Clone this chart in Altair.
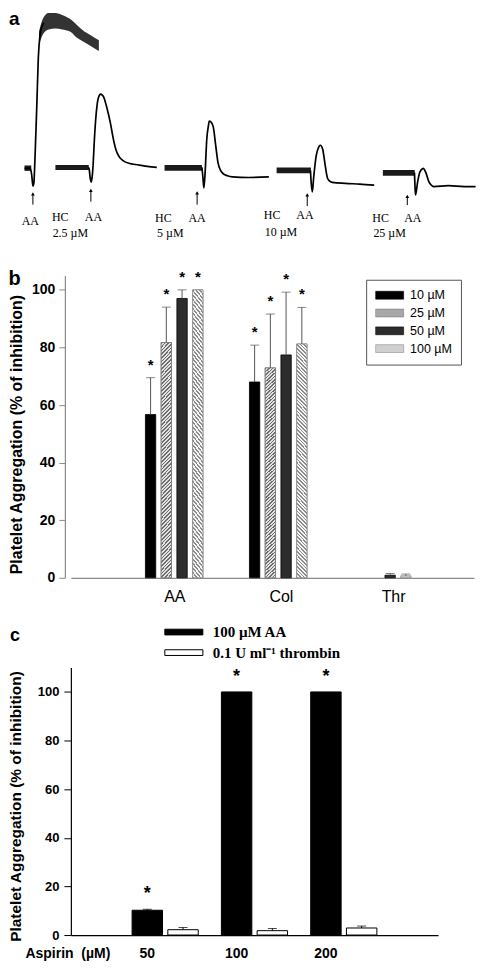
import altair as alt
import pandas as pd

SANS = "Liberation Sans"
SERIF = "Liberation Serif"

# ------------------------------------------------------------------
# Panel a : aggregation traces (x = recording position, y = deflection, drawn downward)
# ------------------------------------------------------------------
tr1_x = [18, 24, 25.5, 26.7, 27.7, 28.3, 29.3, 30.7, 32.3, 34, 36, 38]
tr1_y = [163, 163, 170, 181, 178, 167, 140, 100, 50, 27, 18, 14]
tr1_band_x = [33, 37, 43, 50, 57, 65, 73, 80, 87, 95]
tr1_band_hi = [23, 10, 4, 4, 6, 10, 17, 23, 27, 32]
tr1_band_lo = [37, 26, 21, 20, 21, 23, 30, 34, 38, 43]
tr2_x = [84, 85, 86, 87, 88, 89, 90, 91.7, 93.3, 95.7, 97, 98.5, 100, 103, 107, 110, 113, 116, 120, 127, 133, 145, 155]
tr2_y = [162, 164, 173, 177, 172, 160, 140, 113, 97, 88, 87, 88, 90, 100, 117, 133, 145, 151, 155, 158, 159, 161, 162]
tr3_x = [201.7, 202.7, 203.7, 205, 206.7, 208.3, 209.3, 210.5, 213.3, 216, 218.3, 221, 223.3, 228, 233.3, 250, 271]
tr3_y = [162, 172, 183, 167, 133, 120, 114.5, 115, 120, 140, 157, 165, 168, 170.5, 171.7, 172.3, 171.7]
tr4_x = [314, 315, 316, 317.3, 320, 322.7, 324.3, 326.7, 329.3, 331.7, 334, 336.7, 350, 365, 380]
tr4_y = [165, 180, 187, 173, 150, 141, 139.3, 143.3, 160, 173, 176, 177.3, 178.3, 179, 180]
tr5_x = [421.7, 422.2, 422.8, 425, 427.3, 430, 430.7, 433.3, 436.7, 439, 441.7, 456.7, 473.3, 485]
tr5_y = [167.3, 180, 190, 176.7, 166.7, 163.3, 163, 166.7, 176.7, 180, 181.7, 180.7, 181.7, 181.7]
base_x0 = [18, 50, 163, 279, 389]
base_x1 = [25, 84.5, 201.7, 314.5, 422]
base_hi = [160, 159.5, 159.5, 162, 164.5]
base_lo = [165.5, 164.5, 165.5, 168, 170.5]
a_arrow_x = [26.7, 86.7, 196.7, 310.7, 414.3]
a_arrow_top = [189, 185.5, 188, 190, 191.5]
a_arrow_bot = [200, 197, 200, 201.5, 200.5]
a_aa_x = [24, 89.3, 196.7, 308.3, 420]
a_aa_y = [216.7, 212.7, 213.3, 210.7, 214]
a_hc_x = [55, 161.7, 274.3, 386.7]
a_hc_y = [212.7, 213.3, 210.7, 214]
a_conc = ["2.5 \u00b5M", "5 \u00b5M", "10 \u00b5M", "25 \u00b5M"]
a_conc_x = [65.5, 169, 283.5, 396]
a_conc_y = [229, 229, 228, 229]

# ------------------------------------------------------------------
# Panel b
# ------------------------------------------------------------------
b_groups = ["AA", "Col", "Thr"]
b_group_label_pos = [1.006, 2.03, 3.109]
b_conc = ["10 \u00b5M", "25 \u00b5M", "50 \u00b5M", "100 \u00b5M"]
b_aa = [56.7, 81.7, 97.0, 100.0]
b_aa_err = [12.8, 12.3, 3.0, 0.0]
b_col = [68.0, 72.9, 77.4, 81.2]
b_col_err = [12.8, 18.7, 21.8, 12.7]
b_thr = [0.0, 0.0, 0.9, 0.7]
b_thr_err = [0.0, 0.0, 0.6, 0.6]
b_aa_sig = [1, 1, 1, 1]
b_col_sig = [1, 1, 1, 1]
b_thr_sig = [0, 0, 0, 0]
b_fill = ["#000000", "#a8a8a8", "#2c2c2c", "#d0d0d0"]
b_stroke = ["#000000", "#7a7a7a", "#000000", "#8c8c8c"]

# ------------------------------------------------------------------
# Panel c
# ------------------------------------------------------------------
c_doses = ["50", "100", "200"]
c_series = ["100 \u00b5M AA", "0.1 U ml\u207b\u00b9 thrombin"]
c_aa = [10.2, 100.0, 100.0]
c_aa_err = [0.4, 0.0, 0.0]
c_thr = [2.2, 1.8, 2.9]
c_thr_err = [0.9, 0.9, 0.8]
c_aa_sig = [1, 1, 1]
c_thr_sig = [0, 0, 0]

TITLE = "Platelet Aggregation (% of inhibition)"

# ---------------- layout (figure pixels -> page pixels) ----------------
SX, SY = 0.968, 0.98
ORIG = 66.0            # figure x of the common plot origin
B_TOP, B_ZERO = 272.3, 581.0
C_TOP, C_ZERO = 673.0, 946.7


def rx(fx):
    return SX * (fx - ORIG)


AW = BW = round(SX * (483 - ORIG))
CW = round(SX * (446 - ORIG))
BH = round(SY * (B_ZERO - B_TOP))
CH = round(SY * (C_ZERO - C_TOP))
SPACING = round(SY * (C_TOP - B_ZERO))
AH = round(SY * B_TOP) - SPACING


def ry_a(fy):
    return SY * fy


def ry_b(fy):
    return SY * (fy - B_TOP)


def ry_c(fy):
    return SY * (fy - C_TOP)


# diagonal hatch fill (style only): stripes built from a linear gradient in bar-box units
B_BAR_W = 10.7 * SX
HATCH_K = 22.0


def hatch(line_col, bg_col, down, period_px=3.6, frac=0.45):
    norm = 1.0 + HATCH_K ** 2
    per = period_px / B_BAR_W / norm
    t_max = (1.0 + HATCH_K) / norm
    stops = []
    t = 0.0
    while t < t_max + per and t + per <= 1.0:
        stops += [{"offset": round(t, 6), "color": line_col},
                  {"offset": round(t + frac * per, 6), "color": line_col},
                  {"offset": round(t + frac * per, 6), "color": bg_col},
                  {"offset": round(t + per, 6), "color": bg_col}]
        t += per
    if down:
        return {"gradient": "linear", "x1": 0, "y1": 1, "x2": 1, "y2": 1 - HATCH_K, "stops": stops}
    return {"gradient": "linear", "x1": 0, "y1": 0, "x2": 1, "y2": HATCH_K, "stops": stops}


# ================= panel a chart =================
ax_scale = alt.Scale(domain=[ORIG, ORIG + AW / SX], nice=False, zero=False)
ay_scale = alt.Scale(domain=[0, AH / SY], reverse=True, nice=False, zero=False)

rows = []
for tid, (xs, ys) in enumerate([(tr1_x, tr1_y), (tr2_x, tr2_y), (tr3_x, tr3_y), (tr4_x, tr4_y), (tr5_x, tr5_y)]):
    for k, (xv, yv) in enumerate(zip(xs, ys)):
        rows.append({"trace": tid, "k": k, "t": xv, "d": yv})
lines_df = pd.DataFrame(rows)
band_df = pd.DataFrame({"t": tr1_band_x, "hi": tr1_band_hi, "lo": tr1_band_lo})
base_df = pd.DataFrame({"t0": base_x0, "t1": base_x1, "hi": base_hi, "lo": base_lo})
arrow_df = pd.DataFrame({"t": a_arrow_x, "top": a_arrow_top, "bot": a_arrow_bot})
ann_df = pd.DataFrame(
    {"t": a_aa_x + a_hc_x + a_conc_x,
     "d": a_aa_y + a_hc_y + a_conc_y,
     "txt": ["AA"] * len(a_aa_x) + ["HC"] * len(a_hc_x) + a_conc})

AX = alt.X("t:Q", scale=ax_scale, axis=None)
a_lines = alt.Chart(lines_df).mark_line(color="black", strokeWidth=1.7, interpolate="monotone").encode(
    x=AX, y=alt.Y("d:Q", scale=ay_scale, axis=None), detail="trace:N", order="k:Q")
a_band = alt.Chart(band_df).mark_area(color="#333333", interpolate="monotone").encode(
    x=AX, y=alt.Y("hi:Q", scale=ay_scale, axis=None), y2="lo:Q")
a_base = alt.Chart(base_df).mark_rect(color="#1a1a1a").encode(
    x=alt.X("t0:Q", scale=ax_scale, axis=None), x2="t1:Q",
    y=alt.Y("hi:Q", scale=ay_scale, axis=None), y2="lo:Q")
a_arrow = alt.Chart(arrow_df).mark_rule(color="black", strokeWidth=1).encode(
    x=AX, y=alt.Y("top:Q", scale=ay_scale, axis=None), y2="bot:Q")
a_head = alt.Chart(arrow_df).mark_point(shape="triangle-up", filled=True, color="black", size=14, opacity=1).encode(
    x=AX, y=alt.Y("top:Q", scale=ay_scale, axis=None))
a_text = alt.Chart(ann_df).mark_text(font=SERIF, fontSize=12, baseline="middle", align="center", color="black").encode(
    x=AX, y=alt.Y("d:Q", scale=ay_scale, axis=None), text="txt:N")
a_letter = alt.Chart(pd.DataFrame({"l": ["a"]})).mark_text(
    font=SANS, fontWeight="bold", fontSize=19, align="left", baseline="middle").encode(
    x=alt.value(rx(2)), y=alt.value(ry_a(10)), text="l:N")
panel_a = alt.layer(a_base, a_band, a_lines, a_arrow, a_head, a_text, a_letter).properties(width=AW, height=AH)

# ================= panel b chart =================
b_rows = []
for gi, (g, vals, errs, sig) in enumerate(zip(b_groups, [b_aa, b_col, b_thr], [b_aa_err, b_col_err, b_thr_err],
                                              [b_aa_sig, b_col_sig, b_thr_sig]), start=1):
    for ci, c in enumerate(b_conc):
        b_rows.append({"group": g, "gi": gi, "conc": c, "ci": ci, "value": vals[ci],
                       "err": errs[ci], "top": vals[ci] + errs[ci], "sig": sig[ci]})
b_df = pd.DataFrame(b_rows)

bx_scale = alt.Scale(domain=[0.0548, 3.834], nice=False, zero=False)
by_scale = alt.Scale(domain=[0, 105], nice=False)
b_xaxis = alt.Axis(title=None, labels=False, ticks=False, grid=False, domainColor="#8a8a8a", domainWidth=1.2)
b_yaxis = alt.Axis(title=None, values=[0, 20, 40, 60, 80, 100], grid=False, offset=round(SX * 6),
                   domainColor="#8a8a8a", domainWidth=1.2, tickColor="#8a8a8a", tickSize=6,
                   labelFont=SANS, labelFontWeight="bold", labelFontSize=14, labelPadding=4,
                   labelColor="black")
b_base = alt.Chart(b_df).transform_calculate(xpos="datum.gi + (datum.ci - 1.5) * 0.1513")
BX = alt.X("xpos:Q", scale=bx_scale, axis=b_xaxis)
BY = alt.Y("value:Q", scale=by_scale, axis=b_yaxis)

b_bars = b_base.transform_filter("datum.value > 0").mark_bar(size=B_BAR_W, strokeWidth=0.8).encode(
    x=BX, y=BY,
    fill=alt.Fill("conc:N", scale=alt.Scale(domain=b_conc, range=b_fill),
                  legend=alt.Legend(orient="none", legendX=rx(371.7), legendY=ry_b(276.7), title=None,
                                    symbolType="M-1,-0.28L1,-0.28L1,0.28L-1,0.28Z",
                                    symbolSize=(29 * SX) ** 2,
                                    symbolStrokeColor="#666666", symbolStrokeWidth=0.6,
                                    clipHeight=13, rowPadding=18.2 * SY - 13, padding=9, labelOffset=6,
                                    labelFont=SANS, labelFontSize=12.5, labelColor="black",
                                    strokeColor="#555555", fillColor="white")),
    stroke=alt.Stroke("conc:N", scale=alt.Scale(domain=b_conc, range=b_stroke), legend=None))
b_hatch25 = b_base.transform_filter("datum.value > 2 && datum.ci == 1").mark_bar(
    size=B_BAR_W, fill=hatch("#6e6e6e", "#e2e2e2", down=False), stroke="#7a7a7a", strokeWidth=0.8).encode(
    x=BX, y=BY)
b_hatch100 = b_base.transform_filter("datum.value > 2 && datum.ci == 3").mark_bar(
    size=B_BAR_W, fill=hatch("#8c8c8c", "#f4f4f4", down=True), stroke="#8c8c8c", strokeWidth=0.8).encode(
    x=BX, y=BY)
b_err = b_base.transform_filter("datum.err > 0").mark_rule(color="#555555", strokeWidth=1).encode(
    x=BX, y=BY, y2="top:Q")
b_cap = b_base.transform_filter("datum.err > 0").mark_tick(orient="horizontal", size=9, thickness=1,
                                                           color="#555555").encode(
    x=BX, y=alt.Y("top:Q", scale=by_scale, axis=b_yaxis))
b_star = b_base.transform_filter("datum.sig == 1").mark_text(
    text="*", font=SANS, fontWeight="bold", fontSize=15, baseline="middle", dy=-13, color="black").encode(
    x=BX, y=alt.Y("top:Q", scale=by_scale, axis=b_yaxis))
b_lab = alt.Chart(pd.DataFrame({"group": b_groups, "pos": b_group_label_pos})).mark_text(
    font=SANS, fontSize=16, baseline="middle", color="black").encode(
    x=alt.X("pos:Q", scale=bx_scale, axis=b_xaxis), y=alt.value(ry_b(601.5)), text="group:N")
b_letter = alt.Chart(pd.DataFrame({"l": ["b"]})).mark_text(
    font=SANS, fontWeight="bold", fontSize=20, align="left", baseline="middle").encode(
    x=alt.value(rx(1.5)), y=alt.value(ry_b(275.5)), text="l:N")
b_title = alt.Chart(pd.DataFrame({"l": [TITLE]})).mark_text(
    font=SANS, fontWeight="bold", fontSize=16, angle=270, align="center", baseline="middle").encode(
    x=alt.value(rx(10)), y=alt.value(ry_b(435)), text="l:N")
panel_b = alt.layer(b_bars, b_hatch25, b_hatch100, b_err, b_cap, b_star, b_lab, b_letter, b_title).properties(
    width=BW, height=BH)

# ================= panel c chart =================
c_rows = []
for di, d in enumerate(c_doses, start=1):
    c_rows.append({"dose": d, "di": di, "series": c_series[0], "si": 0, "value": c_aa[di - 1],
                   "err": c_aa_err[di - 1], "top": c_aa[di - 1] + c_aa_err[di - 1], "sig": c_aa_sig[di - 1]})
    c_rows.append({"dose": d, "di": di, "series": c_series[1], "si": 1, "value": c_thr[di - 1],
                   "err": c_thr_err[di - 1], "top": c_thr[di - 1] + c_thr_err[di - 1], "sig": c_thr_sig[di - 1]})
c_df = pd.DataFrame(c_rows)
cx_scale = alt.Scale(domain=[0, 4], nice=False, zero=False)
cy_scale = alt.Scale(domain=[0, 110], nice=False)
c_xaxis = alt.Axis(title=None, labels=False, ticks=False, grid=False, domainColor="black", domainWidth=1.2)
c_yaxis = alt.Axis(title=None, values=[0, 20, 40, 60, 80, 100], grid=False,
                   domainColor="black", domainWidth=1.2, tickColor="black", tickSize=7,
                   labelFont=SANS, labelFontWeight="bold", labelFontSize=13, labelPadding=5,
                   labelColor="black")
c_base = alt.Chart(c_df).transform_calculate(xpos="datum.di + (datum.si - 0.5) * 0.4")
CX = alt.X("xpos:Q", scale=cx_scale, axis=c_xaxis)

c_bars = c_base.mark_bar(size=31.5 * SX, stroke="black", strokeWidth=1).encode(
    x=CX,
    y=alt.Y("value:Q", scale=cy_scale, axis=c_yaxis),
    fill=alt.Fill("series:N", scale=alt.Scale(domain=c_series, range=["#000000", "#ffffff"]),
                  legend=alt.Legend(orient="none", legendX=rx(162.3), legendY=ry_c(629.5), title=None,
                                    symbolType="M-1,-0.15L1,-0.15L1,0.15L-1,0.15Z",
                                    symbolSize=(39.4 * SX) ** 2,
                                    symbolStrokeColor="black", symbolStrokeWidth=1,
                                    clipHeight=14, rowPadding=20 * SY - 14, padding=0, labelOffset=9,
                                    labelFont=SERIF, labelFontWeight="bold", labelFontSize=15,
                                    labelColor="black", labelLimit=300)))
c_err = c_base.transform_filter("datum.err > 0").mark_rule(color="black", strokeWidth=1).encode(
    x=CX, y=alt.Y("value:Q", scale=cy_scale, axis=c_yaxis), y2="top:Q")
c_cap = c_base.transform_filter("datum.err > 0").mark_tick(orient="horizontal", size=9, thickness=1,
                                                           color="black").encode(
    x=CX, y=alt.Y("top:Q", scale=cy_scale, axis=c_yaxis))
c_star = c_base.transform_filter("datum.sig == 1").mark_text(
    text="*", font=SANS, fontWeight="bold", fontSize=18, baseline="middle", dy=-15, color="black").encode(
    x=CX, y=alt.Y("top:Q", scale=cy_scale, axis=c_yaxis))
c_lab = c_base.transform_filter("datum.si == 0").mark_text(
    font=SANS, fontWeight="bold", fontSize=14, baseline="middle", color="black").encode(
    x=CX, y=alt.value(ry_c(966)), text="dose:N")
c_asp = alt.Chart(pd.DataFrame({"l": ["Aspirin\u00a0\u00a0(\u00b5M)"]})).mark_text(
    font=SANS, fontWeight="bold", fontSize=14, align="left", baseline="middle").encode(
    x=alt.value(rx(19)), y=alt.value(ry_c(966)), text="l:N")
c_letter = alt.Chart(pd.DataFrame({"l": ["c"]})).mark_text(
    font=SANS, fontWeight="bold", fontSize=18, align="left", baseline="middle").encode(
    x=alt.value(rx(3)), y=alt.value(ry_c(641)), text="l:N")
c_title = alt.Chart(pd.DataFrame({"l": [TITLE]})).mark_text(
    font=SANS, fontWeight="bold", fontSize=15.5, angle=270, align="center", baseline="middle").encode(
    x=alt.value(rx(9)), y=alt.value(ry_c(815)), text="l:N")
panel_c = alt.layer(c_bars, c_err, c_cap, c_star, c_lab, c_asp, c_letter, c_title).properties(width=CW, height=CH)

chart = alt.vconcat(panel_a, panel_b, panel_c, spacing=SPACING, bounds="flush").resolve_scale(
    fill="independent", stroke="independent"
).properties(padding=0).configure(font=SANS).configure_view(strokeWidth=0)

chart.save("out.html", embed_options={"renderer": "svg", "actions": False})
